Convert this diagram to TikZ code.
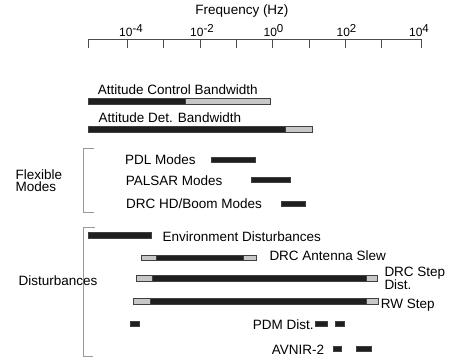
\documentclass[tikz,border=0pt]{standalone}
\usepackage{fontspec}
\setmainfont{Liberation Sans}
\newcommand{\decade}[1]{10\raisebox{4pt}{\fontsize{11.5}{11.5}\selectfont #1}}
\begin{document}
\begin{tikzpicture}[x=1pt, y=-1pt, font=\fontsize{13.5}{11.5}\selectfont,
    every node/.style={inner sep=0pt},
    lbl/.style={anchor=base west, align=left},
    blk/.style={fill=black!88, draw=black!75, line width=0.5pt},
    gry/.style={fill=black!22, draw=black!75, line width=0.5pt},
    brk/.style={draw=black!40, line width=0.6pt}]
    \useasboundingbox (0,0) rectangle (453,358);

    % Axis
    \draw[black!70, line width=0.6pt] (88.3,39.5) -- (421,39.5);
    \draw[black!70, line width=0.6pt] (88.3,39.5) -- ++(0,9) (127.7,39.5) -- ++(0,9)
      (163.3,39.5) -- ++(0,9) (200,39.5) -- ++(0,9) (236.3,39.5) -- ++(0,9)
      (272.7,39.5) -- ++(0,9) (309.3,39.5) -- ++(0,9) (345.7,39.5) -- ++(0,9)
      (381.7,39.5) -- ++(0,9) (421,39.5) -- ++(0,9);
    \node (freq) at (242,15) [anchor=base] {Frequency (Hz)};
    \node (dm4) at (131,36.5) [anchor=base, font=\fontsize{12}{12}\selectfont] {\decade{-4}};
    \node (dm2) at (202,36.5) [anchor=base, font=\fontsize{12}{12}\selectfont] {\decade{-2}};
    \node (d0) at (273.5,36.5) [anchor=base, font=\fontsize{12}{12}\selectfont] {\decade{0}};
    \node (d2) at (346.5,36.5) [anchor=base, font=\fontsize{12}{12}\selectfont] {\decade{2}};
    \node (d4) at (419,36.5) [anchor=base, font=\fontsize{12}{12}\selectfont] {\decade{4}};

    % Bandwidths
    \node (acb) at (97.7,94.5) [lbl] {Attitude Control Bandwidth};
    \draw[blk] (88.3,98.3) rectangle (185,104);
    \draw[gry] (185,98.3) rectangle (270.7,104);
    \node (adb) at (98.5,122.5) [lbl] {Attitude Det. Bandwidth};
    \draw[blk] (88.3,126.3) rectangle (285,132.3);
    \draw[gry] (285,126.3) rectangle (312.7,132.3);

    % Flexible modes
    \draw[brk] (94,148.3) -- (83.3,148.3) -- (83.3,212.7) -- (94,212.7);
    \node (flex) at (15.5,192) [lbl, font=\fontsize{13.5}{12.5}\selectfont] {Flexible\\Modes};
    \node (pdl) at (125,165) [lbl] {PDL Modes};
    \draw[blk] (211.7,157) rectangle (255,162.5);
    \node (palsar) at (125.7,186) [lbl] {PALSAR Modes};
    \draw[blk] (251,177.3) rectangle (290.7,182.5);
    \node (drchd) at (126,208.3) [lbl] {DRC HD/Boom Modes};
    \draw[blk] (281.7,201.3) rectangle (305,206.7);

    % Disturbances
    \draw[brk] (95,227) -- (83.3,227) -- (83.3,356.5) -- (93,356.5);
    \node (dist) at (18.5,285.5) [lbl] {Disturbances};
    \node (env) at (162.5,241.7) [lbl] {Environment Disturbances};
    \draw[blk] (88,232.3) rectangle (151,238.6);
    \node (slew) at (269.3,260.7) [lbl] {DRC Antenna Slew};
    \draw[gry] (141.7,255.7) rectangle (156,260.7);
    \draw[blk] (156,255.7) rectangle (243.3,260.7);
    \draw[gry] (243.3,255.7) rectangle (256.7,260.7);
    \node (drcstep) at (384.3,289.8) [lbl] {DRC Step\\Dist.};
    \draw[gry] (136,275.7) rectangle (152.7,281);
    \draw[blk] (152.7,275.7) rectangle (366.7,281);
    \draw[gry] (366.7,275.7) rectangle (377.3,281);
    \node (rw) at (380.7,308.5) [lbl] {RW Step};
    \draw[gry] (133.3,298.3) rectangle (150.7,304.3);
    \draw[blk] (150.7,298.3) rectangle (366.7,304.3);
    \draw[gry] (366.7,298.3) rectangle (378.3,304.3);
    \node (pdm) at (252.7,329.5) [lbl] {PDM Dist.};
    \draw[blk] (130.7,321.7) rectangle (139,326.7);
    \draw[blk] (315,321.7) rectangle (327.7,326.7);
    \draw[blk] (335,321.7) rectangle (344.3,326.7);
    \node (avnir) at (271.7,354.5) [lbl] {AVNIR-2};
    \draw[blk] (333.3,346.7) rectangle (341.7,351.7);
    \draw[blk] (356.7,346.7) rectangle (371.7,351.7);
\end{tikzpicture}
\end{document}
